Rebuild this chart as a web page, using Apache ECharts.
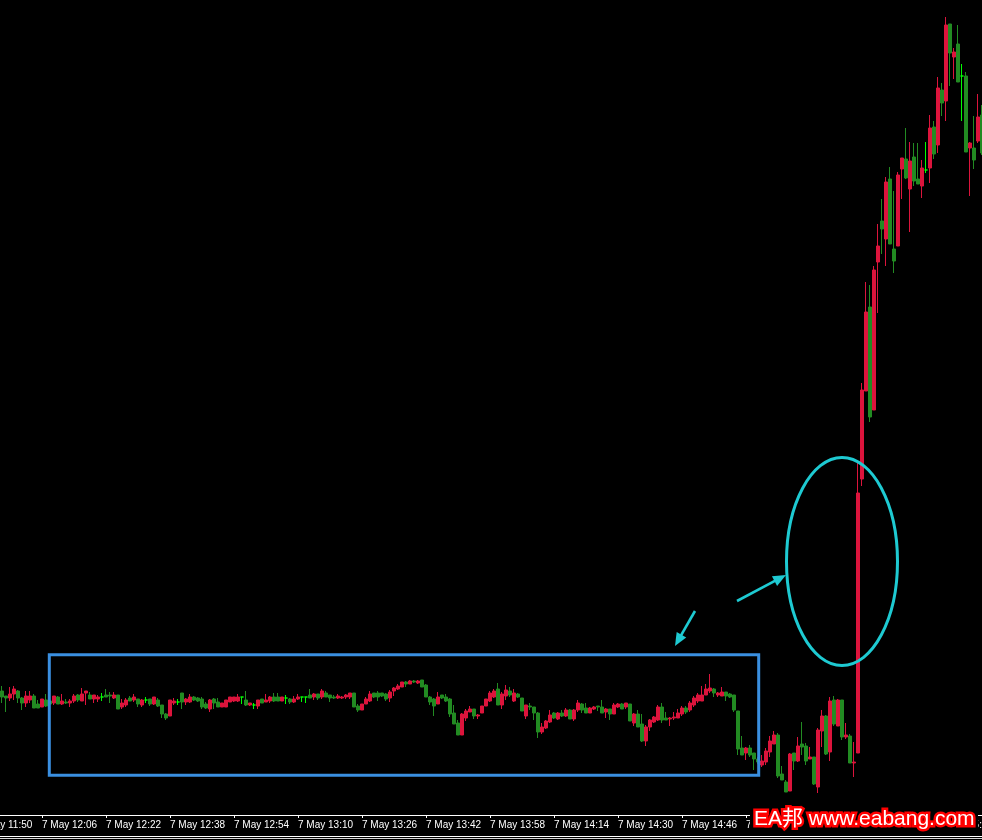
<!DOCTYPE html>
<html><head><meta charset="utf-8">
<script src="https://cdn.jsdelivr.net/npm/echarts@6/dist/echarts.min.js"></script>
<style>html,body{margin:0;padding:0;background:#000;overflow:hidden}#c{width:982px;height:840px}</style>
</head><body><div id="c"></div>
<script>
// ---- time axis: one-minute bars, first slot 7 May 11:50 ----
const dayLabel = '7 May';
const firstSlotMinute = 11 * 60 + 50;
const slotCount = 252;          // 11:50 .. 16:01
const firstBarSlot = 6;         // first visible bar is 11:56

// ---- OHLC values (price units) ----
const openP = [124,119,117,121,124,117,112,115,119,111,108,115,114,112,118,111,113,112,114,120,
114,122,120,116,116,118,120,120,117,120,108,110,117,115,116,110,115,116,111,115,
110,101,99,112,113,122,113,113,118,117,116,111,106,116,113,108,108,113,114,114,
118,115,110,110,109,116,113,114,118,118,114,117,116,113,116,118,118,120,118,121,
118,122,120,118,117,117,118,118,122,109,105,111,114,122,122,122,121,117,124,126,
128,133,131,134,132,135,130,118,116,111,120,118,116,102,92,80,97,103,106,99,
102,109,114,118,126,110,119,124,114,121,117,99,109,108,102,83,87,93,102,96,
102,99,105,96,105,111,107,102,106,109,108,103,106,101,108,111,108,111,92,101,
91,74,88,93,95,108,97,96,97,97,101,107,105,110,114,114,120,124,126,120,
119,123,121,120,104,67,62,67,62,56,50,53,63,71,80,41,33,24,62,54,
71,69,56,58,28,84,99,63,115,89,115,78,79,52,62,336,424,508,405,553,
594,576,636,566,569,646,656,626,658,636,629,645,647,688,670,725,714,791,758,771,
739,739,667,667,674,700];
const closeP = [118,117,121,126,117,112,119,119,107,107,116,109,111,119,111,114,112,114,119,115,
121,124,116,120,118,118,118,119,120,106,112,115,114,118,111,115,115,111,118,109,
101,97,115,114,113,113,116,118,115,114,108,107,115,112,108,112,115,118,118,118,
118,110,112,110,115,112,115,118,114,114,118,117,113,116,118,118,118,117,121,117,
124,118,117,117,119,118,120,122,108,105,111,116,121,118,118,119,116,123,127,129,
133,131,134,133,134,128,118,113,109,118,117,114,101,91,80,101,104,106,99,100,
109,116,122,124,110,121,125,120,122,118,104,110,108,102,83,88,94,100,97,102,
99,105,96,105,112,105,102,107,108,108,102,106,101,110,111,106,112,94,101,88,
74,88,95,98,108,95,95,97,98,102,107,103,112,117,120,120,126,127,122,122,
123,119,118,105,66,60,67,60,56,53,54,64,74,80,39,35,23,61,54,69,
68,54,58,31,85,99,61,114,91,115,78,80,52,53,322,425,503,398,545,569,
586,633,571,554,640,657,637,654,634,631,647,645,687,661,727,712,790,762,763,733,
739,663,672,655,698,662];
const lowP = [112,103,114,115,112,105,108,112,107,107,108,108,109,110,111,110,111,108,112,113,
114,110,116,112,113,114,118,112,116,106,106,108,114,113,108,108,112,109,110,108,
97,95,99,110,110,106,110,112,114,113,106,106,103,106,108,108,108,113,113,113,
111,109,109,106,106,112,113,112,113,114,114,111,111,112,115,113,112,117,115,115,
116,118,113,116,116,116,116,116,108,103,105,111,113,117,114,118,114,113,119,125,
128,128,131,132,131,128,118,110,99,111,116,113,98,91,80,80,94,103,96,96,
102,109,113,117,110,106,115,118,113,117,104,96,105,95,77,81,86,92,96,95,
98,98,96,94,103,102,102,102,105,104,102,97,95,101,107,106,106,94,89,88,
73,69,84,92,94,92,95,89,95,97,99,101,103,108,112,114,120,122,118,118,
119,114,117,103,60,60,55,58,45,51,48,50,58,71,37,35,23,24,45,53,
60,50,56,30,22,68,60,54,89,89,75,76,52,38,62,329,424,393,405,502,
561,549,571,542,569,616,636,583,629,631,617,642,632,656,662,699,694,729,736,733,
694,663,619,646,672,660];
const highP = [129,119,128,129,125,118,124,124,121,115,116,121,116,119,119,121,116,116,121,121,
127,124,123,120,120,122,126,123,123,120,116,117,119,121,116,116,118,116,118,117,
110,102,115,117,116,122,117,121,119,118,118,113,116,117,117,112,115,118,118,121,
118,124,112,112,115,116,121,119,122,122,118,120,117,119,121,118,118,126,122,121,
126,124,120,120,121,119,121,122,122,111,111,118,124,122,124,122,122,125,128,131,
133,134,135,135,135,135,131,119,117,123,120,121,117,110,95,102,106,109,106,101,
109,116,124,126,132,123,130,128,126,122,117,110,112,108,103,92,95,105,103,103,
105,107,106,106,115,112,112,108,109,109,115,107,106,112,112,112,112,111,102,105,
101,90,96,99,110,112,103,98,103,106,109,109,114,119,122,129,131,141,127,123,
128,123,122,120,104,79,68,70,62,58,60,67,79,84,82,49,35,62,62,78,
93,72,68,58,87,105,100,118,119,116,115,92,81,73,352,432,533,530,549,591,
616,638,648,624,643,657,687,673,672,672,655,673,700,694,738,732,798,791,767,790,
751,743,673,699,721,710];

const UP = '#dc143c', DOWN = '#228b22', DOJI = '#00ff00';

const categories = [];
for (let k = 0; k < slotCount; k++) {
  const m = firstSlotMinute + k;
  categories.push(dayLabel + ' ' + String(Math.floor(m / 60)).padStart(2, '0') + ':' + String(m % 60).padStart(2, '0'));
}
const candleData = openP.map((o, i) => {
  const item = { value: [categories[firstBarSlot + i], o, closeP[i], lowP[i], highP[i]] };
  if (o === closeP[i]) item.itemStyle = { color: DOJI, color0: DOJI, borderColor: DOJI, borderColor0: DOJI };
  return item;
});

function arrow(x1, y1, x2, y2, color) {
  const dx = x2 - x1, dy = y2 - y1, len = Math.hypot(dx, dy);
  const ux = dx / len, uy = dy / len, hl = 13, hw = 5.5;
  const bx = x2 - ux * hl, by = y2 - uy * hl;
  return [
    { type: 'line', z: 100, shape: { x1: x1, y1: y1, x2: bx + ux * 2, y2: by + uy * 2 }, style: { stroke: color, lineWidth: 2.6 } },
    { type: 'polygon', z: 100, shape: { points: [[x2, y2], [bx - uy * hw, by + ux * hw], [bx + uy * hw, by - ux * hw]] }, style: { fill: color } }
  ];
}
const CYAN = '#1ecad2';

const chart = echarts.init(document.getElementById('c'), null, { renderer: 'canvas' });
chart.setOption({
  backgroundColor: '#000',
  animation: false,
  grid: { left: -24, right: -2, top: 0, bottom: 25, containLabel: false, outerBoundsMode: 'none' },
  xAxis: {
    type: 'category', data: categories, boundaryGap: true,
    axisLine: { show: true, lineStyle: { color: '#ffffff', width: 1 } },
    axisTick: { show: true, alignWithLabel: true, interval: 15, length: 3, lineStyle: { color: '#ffffff' } },
    axisLabel: { show: true, interval: 15, align: 'left', margin: 5, color: '#ffffff', fontSize: 10, fontFamily: '"Liberation Sans", Arial, sans-serif' },
    splitLine: { show: false }
  },
  yAxis: { type: 'value', min: 0, max: 815, show: false, splitLine: { show: false } },
  series: [{
    type: 'candlestick',
    data: candleData,
    encode: { x: 0, y: [1, 2, 3, 4] },
    barWidth: 3,
    itemStyle: { color: UP, color0: DOWN, borderColor: UP, borderColor0: DOWN, borderWidth: 1 }
  }],
  graphic: [
    { type: 'rect', z: 100, shape: { x: 49.3, y: 654.7, width: 709.4, height: 120.6 }, style: { fill: 'none', stroke: '#3a8fe0', lineWidth: 3 } },
    { type: 'ellipse', z: 100, shape: { cx: 842, cy: 561.5, rx: 55.5, ry: 104 }, style: { fill: 'none', stroke: CYAN, lineWidth: 3 } },
    ...arrow(737, 601, 786, 575, CYAN),
    ...arrow(695, 611, 675, 646, CYAN),
    { type: 'rect', z: 100, shape: { x: 750, y: 805, width: 228, height: 30 }, style: { fill: '#000' } },
    { type: 'text', z: 101, style: { text: 'EA邦 www.eabang.com', x: 754, y: 819, fill: '#ffffff', stroke: '#ff0000', lineWidth: 5, strokeFirst: true, font: '21px "Liberation Sans", "Noto Sans CJK SC", sans-serif', textVerticalAlign: 'middle' } },
    { type: 'line', z: 100, shape: { x1: 0, y1: 836.5, x2: 982, y2: 836.5 }, style: { stroke: '#ffffff', lineWidth: 1 } },
    { type: 'line', z: 100, shape: { x1: 0, y1: 838.5, x2: 982, y2: 838.5 }, style: { stroke: '#d8d8d8', lineWidth: 1 } }
  ]
});
</script>
</body></html>
